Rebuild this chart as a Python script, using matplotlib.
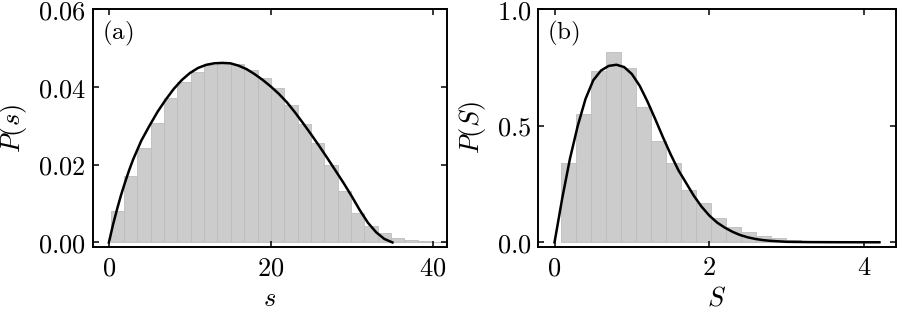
import matplotlib
matplotlib.use('Agg')
import matplotlib.pyplot as plt
from matplotlib.ticker import FuncFormatter
import numpy as np

plt.rcParams['mathtext.fontset'] = 'cm'
plt.rcParams['font.family'] = 'serif'

# (a) histogram of s: first edge, last edge, bar heights
s_first_edge = 0.21
s_last_edge = 41.43
s_hist = [0.0081, 0.0171, 0.0242, 0.0308, 0.0371, 0.0412, 0.0439, 0.0457,
          0.0462, 0.0459, 0.0445, 0.0423, 0.0397, 0.0353, 0.0305, 0.0256,
          0.0198, 0.0133, 0.0076, 0.0041, 0.0024, 0.0012, 0.0006, 0.0003,
          0.0001]

# (a) curve
s_curve = [0, 0.5, 1, 1.5, 2, 2.5, 3, 4, 5, 6, 7, 8, 9, 10, 11, 12, 13, 14,
           15, 16, 17, 18, 19, 20, 21, 22, 23, 24, 25, 26, 27, 28, 29, 30,
           31, 32, 33, 34, 35]
p_s_curve = [0, 0.0045, 0.0085, 0.0122, 0.0155, 0.0186, 0.0214, 0.0262,
             0.0300, 0.0336, 0.0367, 0.0395, 0.0418, 0.0436, 0.0449, 0.0457,
             0.0461, 0.0462, 0.0461, 0.0455, 0.0446, 0.0433, 0.0418, 0.0401,
             0.0382, 0.0360, 0.0334, 0.0306, 0.0277, 0.0247, 0.0216, 0.0184,
             0.0152, 0.0118, 0.0082, 0.0050, 0.0026, 0.0009, 0]

# (b) histogram of S
S_first_edge = 0.087
S_last_edge = 4.161
S_hist = [0.340, 0.550, 0.736, 0.816, 0.750, 0.581, 0.436, 0.340, 0.226,
          0.167, 0.105, 0.066, 0.045, 0.029, 0.018, 0.011, 0.007, 0.004,
          0.003, 0.002, 0.001]

# (b) curve
S_curve = [0, 0.1, 0.2, 0.3, 0.4, 0.5, 0.6, 0.7, 0.8, 0.9, 1.0, 1.1, 1.2,
           1.3, 1.4, 1.5, 1.6, 1.7, 1.8, 1.9, 2.0, 2.1, 2.2, 2.3, 2.4, 2.5,
           2.6, 2.7, 2.8, 3.0, 3.3, 3.7, 4.2]
p_S_curve = [0, 0.19, 0.36, 0.50, 0.615, 0.695, 0.737, 0.757, 0.762, 0.752,
             0.722, 0.672, 0.605, 0.530, 0.452, 0.378, 0.310, 0.255, 0.200,
             0.153, 0.115, 0.085, 0.063, 0.045, 0.031, 0.021, 0.014, 0.009,
             0.006, 0.002, 0.0007, 0.0002, 0]

W, H = 897, 311
fig = plt.figure(figsize=(W / 100, H / 100), dpi=100)
ax1 = fig.add_axes([92.7 / W, 1 - 246.7 / H, 354 / W, 237.4 / H])
ax2 = fig.add_axes([538.3 / W, 1 - 246.7 / H, 357.4 / W, 237.4 / H])


def draw_hist(ax, first, last, heights):
    edges = np.linspace(first, last, len(heights) + 1)
    ax.bar(edges[:-1], heights, width=np.diff(edges), align='edge',
           facecolor='#cccccc', edgecolor='#bdbdbd', linewidth=0.6)


draw_hist(ax1, s_first_edge, s_last_edge, s_hist)
ax1.plot(s_curve, p_s_curve, color='black', lw=1.8)
draw_hist(ax2, S_first_edge, S_last_edge, S_hist)
ax2.plot(S_curve, p_S_curve, color='black', lw=1.8)

ax1.set_xlim(-2.0, 41.7)
ax1.set_ylim(-0.0011, 0.06)
ax1.set_xticks([0, 20, 40])
ax1.set_yticks([0, 0.02, 0.04, 0.06])
ax1.yaxis.set_major_formatter(FuncFormatter(lambda v, p: r'$%.2f$' % v))
ax1.xaxis.set_major_formatter(FuncFormatter(lambda v, p: r'$%d$' % v))
ax1.set_xlabel(r'$s$', fontsize=19, labelpad=4)
ax1.set_ylabel(r'$P(s)$', fontsize=19, labelpad=6)
ax1.text(0.025, 0.90, r'$\mathrm{(a)}$', transform=ax1.transAxes,
         fontsize=18, va='center', ha='left')

ax2.set_xlim(-0.21, 4.41)
ax2.set_ylim(-0.019, 1.0)
ax2.set_xticks([0, 2, 4])
ax2.set_yticks([0, 0.5, 1.0])
ax2.yaxis.set_major_formatter(FuncFormatter(lambda v, p: r'$%.1f$' % v))
ax2.xaxis.set_major_formatter(FuncFormatter(lambda v, p: r'$%d$' % v))
ax2.set_xlabel(r'$S$', fontsize=19, labelpad=4)
ax2.set_ylabel(r'$P(S)$', fontsize=19, labelpad=6)
ax2.text(0.0235, 0.90, r'$\mathrm{(b)}$', transform=ax2.transAxes,
         fontsize=18, va='center', ha='left')

for ax in (ax1, ax2):
    ax.tick_params(direction='in', top=True, right=True, length=4.5,
                   width=1.1, labelsize=19)
    ax.tick_params(axis='x', pad=6)
    ax.tick_params(axis='y', pad=5)
    for sp in ax.spines.values():
        sp.set_linewidth(1.4)

fig.savefig('out.png', dpi=100)
